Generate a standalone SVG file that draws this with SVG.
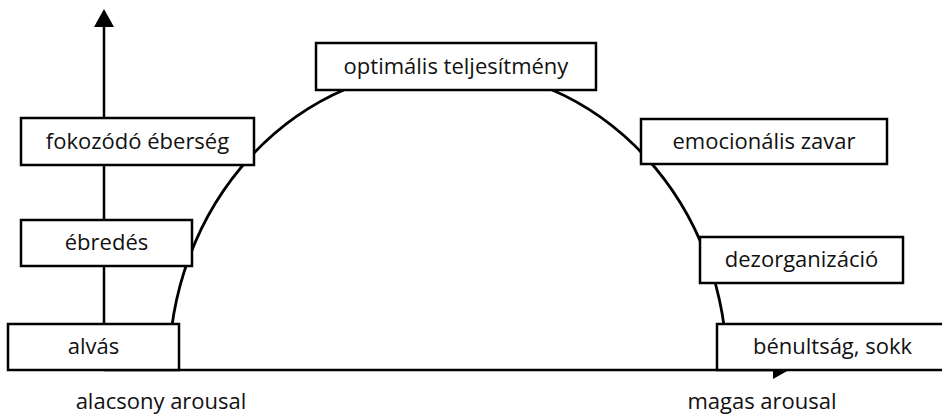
<svg xmlns="http://www.w3.org/2000/svg" width="942" height="416" viewBox="0 0 942 416">
  <style>
    .box rect { fill: #fff; stroke: #000; stroke-width: 2.5; }
    .box text, .label { font-family: "Open Sans", "Liberation Sans", sans-serif; font-size: 22px; fill: #111; text-anchor: middle; }
    .axis { stroke: #000; stroke-width: 2.5; fill: none; }
    .curve { stroke: #000; stroke-width: 2.8; fill: none; }
  </style>

  <!-- axes and arousal curve -->
  <g id="connectors">
    <line class="axis" x1="104" y1="370" x2="104" y2="26" stroke-width="3"/>
    <path d="M94,27 L104,9 L114,27 Z" fill="#000"/>
    <line class="axis" x1="104" y1="370" x2="774" y2="370"/>
    <path d="M773,361 L789,370 L773,379 Z" fill="#000"/>
    <path class="curve" d="M169,370 A279,302 0 0 1 727,370"/>
  </g>

  <!-- state boxes -->
  <g id="optimalis" class="box">
    <rect x="316" y="43" width="280" height="47"/>
    <text x="456" y="74">optimális teljesítmény</text>
  </g>
  <g id="fokozodo" class="box">
    <rect x="21" y="118" width="233" height="47"/>
    <text x="137.5" y="149">fokozódó éberség</text>
  </g>
  <g id="ebredes" class="box">
    <rect x="21" y="220" width="171" height="46"/>
    <text x="106.5" y="250">ébredés</text>
  </g>
  <g id="alvas" class="box">
    <rect x="8" y="324" width="171" height="46"/>
    <text x="93.5" y="354">alvás</text>
  </g>
  <g id="emocionalis" class="box">
    <rect x="641" y="119" width="246" height="45"/>
    <text x="764" y="149">emocionális zavar</text>
  </g>
  <g id="dezorganizacio" class="box">
    <rect x="700" y="237" width="203" height="46"/>
    <text x="801.5" y="267">dezorganizáció</text>
  </g>
  <g id="benultsag" class="box">
    <rect x="717" y="324" width="240" height="46"/>
    <text x="832.5" y="354">bénultság, sokk</text>
  </g>

  <!-- axis labels -->
  <text class="label" x="161" y="409">alacsony arousal</text>
  <text class="label" x="762" y="409">magas arousal</text>
</svg>
